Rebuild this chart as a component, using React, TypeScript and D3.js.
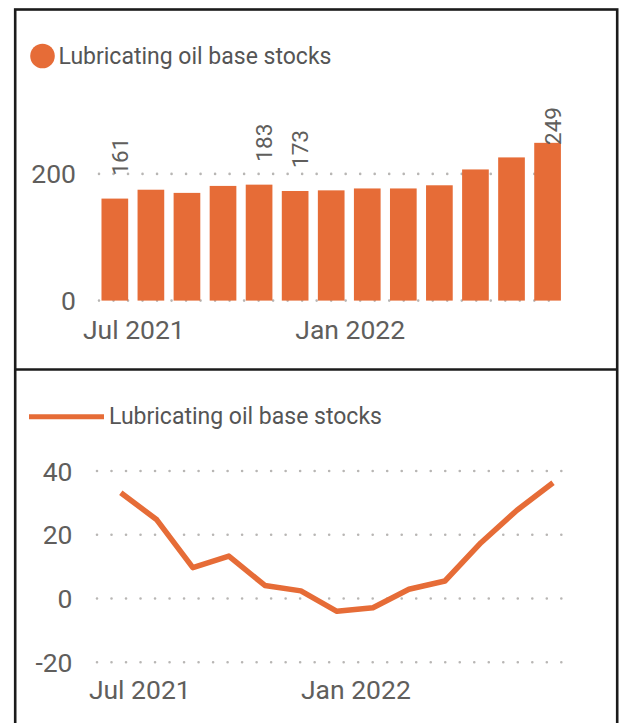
import * as d3 from 'd3';
import React from 'react';

const months = [
  'Jul 2021', 'Aug 2021', 'Sep 2021', 'Oct 2021', 'Nov 2021', 'Dec 2021', 'Jan 2022',
  'Feb 2022', 'Mar 2022', 'Apr 2022', 'May 2022', 'Jun 2022', 'Jul 2022',
];
const stocks = [161, 175, 170, 181, 183, 173, 174, 177, 177, 182, 207, 226, 249];
const yoyChange = [33.2, 24.7, 9.7, 13.3, 4.1, 2.4, -4.0, -2.9, 2.9, 5.5, 17.5, 27.7, 36.3];
const labeledMonths = ['Jul 2021', 'Nov 2021', 'Dec 2021', 'Jul 2022'];
const tickMonths = ['Jul 2021', 'Jan 2022'];
const barTicks = [0, 200];
const lineTicks = [-20, 0, 20, 40];
const seriesName = 'Lubricating oil base stocks';

const W = 620;
const H = 723;
const ORANGE = '#E66C37';
const TEXT = '#605E5C';
const GRID = '#B8B6B4';
const FONT = 'Roboto, sans-serif';

const App: React.FC = () => {
  // top panel: bars
  const xBar = d3.scaleBand<string>().domain(months).range([96.8, 565.6]).paddingInner(0.26).paddingOuter(0.13);
  const yBar = d3.scaleLinear().domain([0, 250]).range([300.6, 142.2]);
  const barPlotTop = 108;

  // bottom panel: line
  const xLine = d3.scalePoint<string>().domain(months).range([120.8, 553]);
  const yLine = d3.scaleLinear().domain([-20, 40]).range([662.3, 471]);
  const line = d3
    .line<number>()
    .x((_, i) => xLine(months[i]) as number)
    .y(d => yLine(d));

  const dotted = {
    stroke: GRID,
    strokeWidth: 2.6,
    strokeDasharray: '0.01 14.5',
    strokeLinecap: 'round' as const,
  };

  return (
    <svg width={W} height={H} style={{ position: 'absolute', left: 0, top: 0, background: '#fff' }} fontFamily={FONT}>
      {/* frame */}
      <rect x={15.2} y={9.5} width={602} height={800} fill="none" stroke="#1b1b1b" strokeWidth={2.6} />
      <line x1={15} x2={617.5} y1={369.5} y2={369.5} stroke="#1b1b1b" strokeWidth={2.6} />

      {/* top legend */}
      <circle cx={42.5} cy={56} r={12.3} fill={ORANGE} />
      <text x={58.5} y={56} dominantBaseline="central" fontSize={23} fill="#555">
        {seriesName}
      </text>

      {/* top gridlines + y ticks */}
      {barTicks.map(t => (
        <g key={`bt${t}`}>
          <line x1={99} x2={563} y1={yBar(t)} y2={yBar(t)} {...dotted} />
          <text x={76} y={yBar(t)} textAnchor="end" dominantBaseline="central" fontSize={26.5} fill={TEXT}>
            {t}
          </text>
        </g>
      ))}

      {/* bars */}
      {stocks.map((v, i) => (
        <rect
          key={months[i]}
          x={xBar(months[i])}
          y={yBar(v)}
          width={xBar.bandwidth()}
          height={yBar(0) - yBar(v)}
          fill={ORANGE}
        />
      ))}

      {/* data labels */}
      {stocks.map((v, i) => {
        if (!labeledMonths.includes(months[i])) return null;
        const cx = (xBar(months[i]) as number) + xBar.bandwidth() / 2;
        const y0 = Math.max(yBar(v) - 23, barPlotTop + 37);
        return (
          <text
            key={`lbl${i}`}
            transform={`translate(${cx + 13},${y0}) rotate(-90)`}
            fontSize={22.5}
            fill={TEXT}
          >
            {v}
          </text>
        );
      })}

      {/* top x ticks */}
      {tickMonths.map(m => (
        <text
          key={`bx${m}`}
          x={(xBar(m) as number) + xBar.bandwidth() / 2 + 19}
          y={339}
          textAnchor="middle"
          fontSize={26.5}
          fill={TEXT}
        >
          {m}
        </text>
      ))}

      {/* bottom legend */}
      <line x1={29} x2={104} y1={416.7} y2={416.7} stroke={ORANGE} strokeWidth={5} />
      <text x={109} y={416.5} dominantBaseline="central" fontSize={23} fill="#555">
        {seriesName}
      </text>

      {/* bottom gridlines + y ticks */}
      {lineTicks.map(t => (
        <g key={`lt${t}`}>
          <line x1={97} x2={565} y1={yLine(t)} y2={yLine(t)} {...dotted} />
          <text x={72.5} y={yLine(t)} textAnchor="end" dominantBaseline="central" fontSize={26.5} fill={TEXT}>
            {t}
          </text>
        </g>
      ))}

      <path d={line(yoyChange) || ''} fill="none" stroke={ORANGE} strokeWidth={5.5} strokeLinejoin="round" />

      {/* bottom x ticks */}
      {tickMonths.map(m => (
        <text key={`lx${m}`} x={(xLine(m) as number) + 19} y={699} textAnchor="middle" fontSize={26.5} fill={TEXT}>
          {m}
        </text>
      ))}
    </svg>
  );
};

export default App;
